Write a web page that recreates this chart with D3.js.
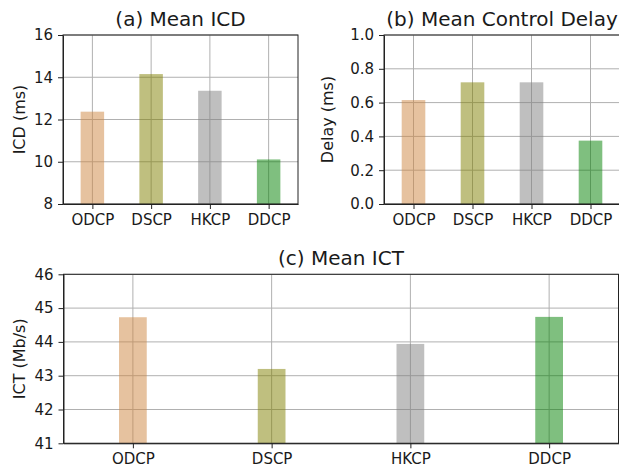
<!DOCTYPE html>
<html>
<head>
<meta charset="utf-8">
<script src="https://cdn.jsdelivr.net/npm/d3@7"></script>
<style>
    body { margin: 0; background: #fff; }
    svg { display: block; font-family: "DejaVu Sans", sans-serif; }
    .grid line { stroke: #b0b0b0; stroke-width: 1; }
    .axis path, .axis line { stroke: #222; }
    .axis text { fill: #1a1a1a; font-size: 15px; font-family: "DejaVu Sans", sans-serif; }
</style>
</head>
<body>
<div id="chart"></div>
<script>
// Data
const categories = ["ODCP", "DSCP", "HKCP", "DDCP"];
const barColors = ["peru", "olive", "gray", "green"];

const icdValues = [12.37, 14.15, 13.36, 10.11];
const icdTicks = [8, 10, 12, 14, 16];

const delayValues = [0.615, 0.72, 0.72, 0.375];
const delayTicks = [0, 0.2, 0.4, 0.6, 0.8, 1.0];

const ictValues = [44.73, 43.2, 43.94, 44.74];
const ictTicks = [41, 42, 43, 44, 45, 46];

const width = 619, height = 470;

const svg = d3.select("#chart").append("svg")
    .attr("width", width)
    .attr("height", height);

// One subplot: bars over an index axis with [-0.5, 3.5] limits
function drawPanel(cfg) {
    const x = d3.scaleLinear().domain([-0.5, 3.5]).range([cfg.left, cfg.right]);
    const y = d3.scaleLinear().domain(cfg.domain).range([cfg.bottom, cfg.top]);
    const idx = categories.map((d, i) => i);

    const g = svg.append("g");

    // grid first, translucent bars let it show through
    const grid = g.append("g").attr("class", "grid");
    grid.selectAll(".gx").data(idx).enter().append("line")
        .attr("x1", d => x(d)).attr("x2", d => x(d))
        .attr("y1", cfg.top).attr("y2", cfg.bottom);
    grid.selectAll(".gy").data(cfg.ticks).enter().append("line")
        .attr("x1", cfg.left).attr("x2", cfg.right)
        .attr("y1", d => y(d)).attr("y2", d => y(d));

    // bars
    g.selectAll("rect").data(cfg.values).enter().append("rect")
        .attr("x", (d, i) => x(i - cfg.barWidth / 2))
        .attr("width", x(cfg.barWidth) - x(0))
        .attr("y", d => y(d))
        .attr("height", d => cfg.bottom - y(d))
        .attr("fill", (d, i) => barColors[i])
        .attr("fill-opacity", 0.5);

    // axes
    g.append("g").attr("class", "axis")
        .attr("transform", `translate(0,${cfg.bottom})`)
        .call(d3.axisBottom(x).tickValues(idx).tickFormat(i => categories[i])
            .tickSize(5).tickPadding(5).tickSizeOuter(0));
    g.append("g").attr("class", "axis")
        .attr("transform", `translate(${cfg.left},0)`)
        .call(d3.axisLeft(y).tickValues(cfg.ticks).tickFormat(d3.format(cfg.fmt))
            .tickSize(5).tickPadding(5).tickSizeOuter(0));

    // top / right spines
    g.append("rect")
        .attr("x", cfg.left).attr("y", cfg.top)
        .attr("width", cfg.right - cfg.left).attr("height", cfg.bottom - cfg.top)
        .attr("fill", "none").attr("stroke", "#222");

    // title
    g.append("text")
        .attr("x", (cfg.left + cfg.right) / 2).attr("y", cfg.top - 9)
        .attr("text-anchor", "middle")
        .attr("font-size", 20).attr("fill", "#1a1a1a")
        .text(cfg.title);

    // y label
    g.append("text")
        .attr("transform", `translate(${cfg.labelX},${(cfg.top + cfg.bottom) / 2}) rotate(-90)`)
        .attr("text-anchor", "middle")
        .attr("dominant-baseline", "central")
        .attr("font-size", 16).attr("fill", "#1a1a1a")
        .text(cfg.ylabel);
}

drawPanel({
    left: 63, right: 298, top: 35, bottom: 204,
    domain: [8, 16], ticks: icdTicks, fmt: "d",
    values: icdValues, barWidth: 0.4,
    title: "(a) Mean ICD", ylabel: "ICD (ms)", labelX: 19
});

drawPanel({
    left: 384, right: 620, top: 35, bottom: 204,
    domain: [0, 1], ticks: delayTicks, fmt: ".1f",
    values: delayValues, barWidth: 0.4,
    title: "(b) Mean Control Delay", ylabel: "Delay (ms)", labelX: 327
});

drawPanel({
    left: 63.5, right: 618.5, top: 274.3, bottom: 443.3,
    domain: [41, 46], ticks: ictTicks, fmt: "d",
    values: ictValues, barWidth: 0.2,
    title: "(c) Mean ICT", ylabel: "ICT (Mb/s)", labelX: 19
});
</script>
</body>
</html>
